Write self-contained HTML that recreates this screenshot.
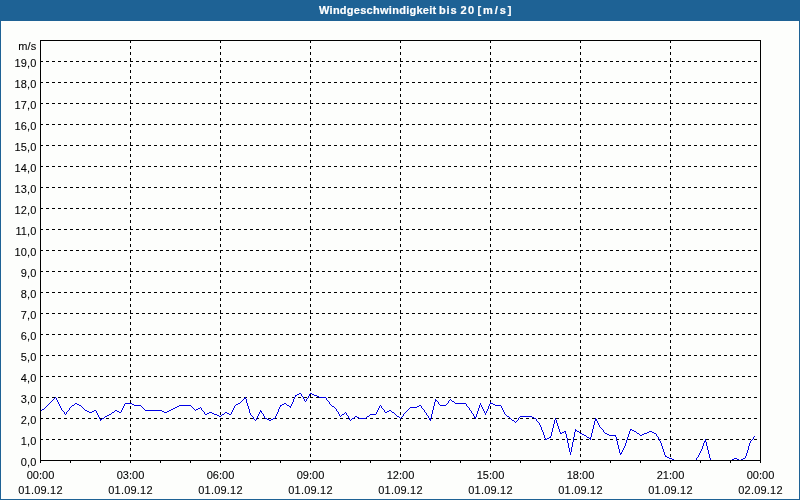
<!DOCTYPE html>
<html><head><meta charset="utf-8"><title>Windgeschwindigkeit bis 20 [m/s]</title>
<style>
html,body{margin:0;padding:0;}
body{width:800px;height:500px;position:relative;overflow:hidden;background:#1e6295;font-family:"Liberation Sans",sans-serif;font-size:11px;color:#000;-webkit-text-stroke:0.08px #000;}
#inner{position:absolute;left:1px;top:21px;width:798px;height:478px;background:#fdfefc;}
#title{-webkit-text-stroke:0.2px #fff;position:absolute;left:0;top:0;width:800px;height:21px;color:#fff;font-weight:bold;font-size:11px;line-height:13px;white-space:nowrap;}
#title span{position:absolute;top:4px;}
svg{position:absolute;left:0;top:0;}
.yl{position:absolute;left:0;width:36.4px;letter-spacing:0.1px;text-align:right;line-height:13px;height:13px;white-space:nowrap;}
.xl{position:absolute;width:81px;text-align:center;line-height:13px;height:13px;white-space:nowrap;}
</style></head><body>
<div id="title"><span style="left:319px;letter-spacing:0.27px">Windgeschwindigkeit</span> <span style="left:439px;letter-spacing:0.9px">bis</span> <span style="left:460.5px;letter-spacing:1.4px">20</span> <span style="left:477.5px;letter-spacing:1.9px">[m/s]</span></div>
<div id="inner"></div>
<svg width="800" height="500" viewBox="0 0 800 500" shape-rendering="crispEdges">
<g stroke="#000" stroke-width="1" stroke-dasharray="3 3" fill="none"><line x1="40" x2="760" y1="439.5" y2="439.5"/><line x1="40" x2="760" y1="418.5" y2="418.5"/><line x1="40" x2="760" y1="397.5" y2="397.5"/><line x1="40" x2="760" y1="376.5" y2="376.5"/><line x1="40" x2="760" y1="355.5" y2="355.5"/><line x1="40" x2="760" y1="334.5" y2="334.5"/><line x1="40" x2="760" y1="313.5" y2="313.5"/><line x1="40" x2="760" y1="292.5" y2="292.5"/><line x1="40" x2="760" y1="271.5" y2="271.5"/><line x1="40" x2="760" y1="250.5" y2="250.5"/><line x1="40" x2="760" y1="229.5" y2="229.5"/><line x1="40" x2="760" y1="208.5" y2="208.5"/><line x1="40" x2="760" y1="187.5" y2="187.5"/><line x1="40" x2="760" y1="166.5" y2="166.5"/><line x1="40" x2="760" y1="145.5" y2="145.5"/><line x1="40" x2="760" y1="124.5" y2="124.5"/><line x1="40" x2="760" y1="103.5" y2="103.5"/><line x1="40" x2="760" y1="82.5" y2="82.5"/><line x1="40" x2="760" y1="61.5" y2="61.5"/><line y1="40" y2="460" x1="130.5" x2="130.5"/><line y1="40" y2="460" x1="220.5" x2="220.5"/><line y1="40" y2="460" x1="310.5" x2="310.5"/><line y1="40" y2="460" x1="400.5" x2="400.5"/><line y1="40" y2="460" x1="490.5" x2="490.5"/><line y1="40" y2="460" x1="580.5" x2="580.5"/><line y1="40" y2="460" x1="670.5" x2="670.5"/></g>
<g fill="#000"><rect x="40" y="461" width="1" height="2"/><rect x="70" y="461" width="1" height="2"/><rect x="100" y="461" width="1" height="2"/><rect x="130" y="461" width="1" height="2"/><rect x="160" y="461" width="1" height="2"/><rect x="190" y="461" width="1" height="2"/><rect x="220" y="461" width="1" height="2"/><rect x="250" y="461" width="1" height="2"/><rect x="280" y="461" width="1" height="2"/><rect x="310" y="461" width="1" height="2"/><rect x="340" y="461" width="1" height="2"/><rect x="370" y="461" width="1" height="2"/><rect x="400" y="461" width="1" height="2"/><rect x="430" y="461" width="1" height="2"/><rect x="460" y="461" width="1" height="2"/><rect x="490" y="461" width="1" height="2"/><rect x="520" y="461" width="1" height="2"/><rect x="550" y="461" width="1" height="2"/><rect x="580" y="461" width="1" height="2"/><rect x="610" y="461" width="1" height="2"/><rect x="640" y="461" width="1" height="2"/><rect x="670" y="461" width="1" height="2"/><rect x="700" y="461" width="1" height="2"/><rect x="730" y="461" width="1" height="2"/><rect x="760" y="461" width="1" height="2"/></g>
<path fill="#0000e6" stroke="none" d="M299 393h2v1h-2zM310 393h2v1h-2zM297 394h2v1h-2zM301 394h1v1h-1zM309 394h1v1h-1zM312 394h2v1h-2zM295 395h2v1h-2zM301 395h1v1h-1zM309 395h1v1h-1zM314 395h3v1h-3zM295 396h1v1h-1zM302 396h1v1h-1zM308 396h1v1h-1zM317 396h2v1h-2zM55 397h1v1h-1zM245 397h1v1h-1zM294 397h1v1h-1zM303 397h1v1h-1zM308 397h1v1h-1zM319 397h7v1h-7zM54 398h1v1h-1zM56 398h1v1h-1zM244 398h2v1h-2zM294 398h1v1h-1zM303 398h1v1h-1zM307 398h1v1h-1zM326 398h1v1h-1zM53 399h1v1h-1zM56 399h1v1h-1zM243 399h1v1h-1zM246 399h1v1h-1zM293 399h1v1h-1zM304 399h1v1h-1zM306 399h1v1h-1zM326 399h1v1h-1zM435 399h1v1h-1zM450 399h1v1h-1zM52 400h1v1h-1zM57 400h1v1h-1zM242 400h1v1h-1zM246 400h1v1h-1zM293 400h1v1h-1zM304 400h1v1h-1zM306 400h1v1h-1zM327 400h1v1h-1zM435 400h2v1h-2zM449 400h1v1h-1zM451 400h1v1h-1zM51 401h1v1h-1zM57 401h1v1h-1zM241 401h1v1h-1zM246 401h1v1h-1zM293 401h1v1h-1zM305 401h1v1h-1zM328 401h1v1h-1zM435 401h1v1h-1zM437 401h1v1h-1zM448 401h1v1h-1zM452 401h2v1h-2zM50 402h1v1h-1zM58 402h1v1h-1zM240 402h1v1h-1zM246 402h1v1h-1zM292 402h1v1h-1zM329 402h1v1h-1zM434 402h1v1h-1zM438 402h1v1h-1zM448 402h1v1h-1zM454 402h1v1h-1zM490 402h1v1h-1zM49 403h1v1h-1zM58 403h1v1h-1zM75 403h2v1h-2zM125 403h7v1h-7zM238 403h2v1h-2zM247 403h1v1h-1zM284 403h2v1h-2zM292 403h1v1h-1zM329 403h1v1h-1zM434 403h1v1h-1zM438 403h1v1h-1zM447 403h1v1h-1zM455 403h11v1h-11zM480 403h1v1h-1zM490 403h3v1h-3zM48 404h1v1h-1zM59 404h1v1h-1zM74 404h1v1h-1zM77 404h2v1h-2zM124 404h1v1h-1zM132 404h2v1h-2zM236 404h2v1h-2zM247 404h1v1h-1zM282 404h2v1h-2zM286 404h1v1h-1zM291 404h1v1h-1zM330 404h1v1h-1zM434 404h1v1h-1zM439 404h1v1h-1zM446 404h1v1h-1zM466 404h1v1h-1zM480 404h1v1h-1zM489 404h1v1h-1zM493 404h2v1h-2zM47 405h1v1h-1zM59 405h1v1h-1zM72 405h2v1h-2zM79 405h2v1h-2zM124 405h1v1h-1zM134 405h7v1h-7zM179 405h12v1h-12zM235 405h1v1h-1zM247 405h1v1h-1zM280 405h2v1h-2zM287 405h2v1h-2zM291 405h1v1h-1zM331 405h1v1h-1zM380 405h1v1h-1zM419 405h2v1h-2zM434 405h1v1h-1zM440 405h6v1h-6zM466 405h1v1h-1zM479 405h1v1h-1zM481 405h1v1h-1zM489 405h1v1h-1zM495 405h6v1h-6zM46 406h1v1h-1zM60 406h1v1h-1zM71 406h1v1h-1zM81 406h1v1h-1zM123 406h1v1h-1zM141 406h1v1h-1zM177 406h2v1h-2zM191 406h1v1h-1zM234 406h1v1h-1zM248 406h1v1h-1zM280 406h1v1h-1zM289 406h2v1h-2zM332 406h2v1h-2zM379 406h1v1h-1zM381 406h1v1h-1zM417 406h2v1h-2zM421 406h1v1h-1zM433 406h1v1h-1zM467 406h1v1h-1zM479 406h1v1h-1zM481 406h1v1h-1zM488 406h1v1h-1zM501 406h1v1h-1zM45 407h1v1h-1zM60 407h1v1h-1zM70 407h1v1h-1zM82 407h1v1h-1zM123 407h1v1h-1zM142 407h1v1h-1zM175 407h2v1h-2zM192 407h1v1h-1zM200 407h1v1h-1zM234 407h1v1h-1zM248 407h1v1h-1zM279 407h1v1h-1zM290 407h1v1h-1zM334 407h1v1h-1zM379 407h1v1h-1zM381 407h1v1h-1zM410 407h7v1h-7zM421 407h1v1h-1zM433 407h1v1h-1zM468 407h1v1h-1zM479 407h1v1h-1zM482 407h1v1h-1zM488 407h1v1h-1zM501 407h1v1h-1zM44 408h1v1h-1zM61 408h1v1h-1zM69 408h1v1h-1zM83 408h1v1h-1zM122 408h1v1h-1zM143 408h1v1h-1zM173 408h2v1h-2zM193 408h1v1h-1zM198 408h2v1h-2zM201 408h1v1h-1zM233 408h1v1h-1zM248 408h1v1h-1zM279 408h1v1h-1zM335 408h1v1h-1zM378 408h1v1h-1zM382 408h1v1h-1zM409 408h1v1h-1zM422 408h1v1h-1zM433 408h1v1h-1zM469 408h1v1h-1zM478 408h1v1h-1zM482 408h1v1h-1zM488 408h1v1h-1zM502 408h1v1h-1zM42 409h2v1h-2zM61 409h1v1h-1zM69 409h1v1h-1zM84 409h1v1h-1zM122 409h1v1h-1zM144 409h1v1h-1zM171 409h2v1h-2zM194 409h1v1h-1zM196 409h2v1h-2zM201 409h1v1h-1zM233 409h1v1h-1zM249 409h1v1h-1zM278 409h1v1h-1zM336 409h1v1h-1zM378 409h1v1h-1zM383 409h1v1h-1zM408 409h1v1h-1zM423 409h1v1h-1zM433 409h1v1h-1zM469 409h1v1h-1zM478 409h1v1h-1zM483 409h1v1h-1zM487 409h1v1h-1zM502 409h1v1h-1zM41 410h1v1h-1zM62 410h1v1h-1zM68 410h1v1h-1zM85 410h2v1h-2zM94 410h2v1h-2zM115 410h2v1h-2zM121 410h1v1h-1zM145 410h17v1h-17zM169 410h2v1h-2zM195 410h1v1h-1zM202 410h1v1h-1zM232 410h1v1h-1zM249 410h1v1h-1zM260 410h1v1h-1zM278 410h1v1h-1zM336 410h1v1h-1zM377 410h1v1h-1zM384 410h1v1h-1zM389 410h2v1h-2zM407 410h1v1h-1zM424 410h1v1h-1zM432 410h1v1h-1zM470 410h1v1h-1zM478 410h1v1h-1zM483 410h1v1h-1zM487 410h1v1h-1zM503 410h1v1h-1zM40 411h1v1h-1zM63 411h1v1h-1zM67 411h1v1h-1zM87 411h2v1h-2zM92 411h2v1h-2zM96 411h1v1h-1zM114 411h1v1h-1zM117 411h2v1h-2zM121 411h1v1h-1zM162 411h2v1h-2zM167 411h2v1h-2zM203 411h1v1h-1zM232 411h1v1h-1zM249 411h1v1h-1zM260 411h2v1h-2zM278 411h1v1h-1zM337 411h1v1h-1zM377 411h1v1h-1zM384 411h1v1h-1zM387 411h2v1h-2zM391 411h1v1h-1zM406 411h1v1h-1zM424 411h1v1h-1zM432 411h1v1h-1zM471 411h1v1h-1zM477 411h1v1h-1zM484 411h1v1h-1zM486 411h1v1h-1zM503 411h1v1h-1zM64 412h1v1h-1zM66 412h1v1h-1zM89 412h3v1h-3zM96 412h1v1h-1zM112 412h2v1h-2zM119 412h2v1h-2zM164 412h3v1h-3zM204 412h1v1h-1zM209 412h3v1h-3zM225 412h2v1h-2zM231 412h1v1h-1zM249 412h1v1h-1zM259 412h1v1h-1zM261 412h1v1h-1zM277 412h1v1h-1zM338 412h1v1h-1zM345 412h1v1h-1zM376 412h1v1h-1zM385 412h2v1h-2zM392 412h2v1h-2zM405 412h1v1h-1zM425 412h1v1h-1zM432 412h1v1h-1zM471 412h1v1h-1zM477 412h1v1h-1zM484 412h1v1h-1zM486 412h1v1h-1zM504 412h1v1h-1zM64 413h1v1h-1zM66 413h1v1h-1zM97 413h1v1h-1zM111 413h1v1h-1zM204 413h1v1h-1zM207 413h2v1h-2zM212 413h2v1h-2zM224 413h1v1h-1zM227 413h2v1h-2zM231 413h1v1h-1zM250 413h1v1h-1zM259 413h1v1h-1zM262 413h1v1h-1zM277 413h1v1h-1zM338 413h1v1h-1zM344 413h1v1h-1zM346 413h1v1h-1zM376 413h1v1h-1zM394 413h1v1h-1zM404 413h1v1h-1zM426 413h1v1h-1zM432 413h1v1h-1zM472 413h1v1h-1zM477 413h1v1h-1zM485 413h1v1h-1zM504 413h1v1h-1zM65 414h1v1h-1zM97 414h1v1h-1zM109 414h2v1h-2zM205 414h2v1h-2zM214 414h3v1h-3zM222 414h2v1h-2zM229 414h2v1h-2zM250 414h1v1h-1zM258 414h1v1h-1zM263 414h1v1h-1zM276 414h1v1h-1zM339 414h1v1h-1zM342 414h2v1h-2zM346 414h1v1h-1zM370 414h6v1h-6zM395 414h1v1h-1zM403 414h1v1h-1zM426 414h1v1h-1zM431 414h1v1h-1zM473 414h1v1h-1zM476 414h1v1h-1zM485 414h1v1h-1zM505 414h1v1h-1zM98 415h1v1h-1zM107 415h2v1h-2zM217 415h2v1h-2zM221 415h1v1h-1zM251 415h1v1h-1zM258 415h1v1h-1zM263 415h1v1h-1zM276 415h1v1h-1zM339 415h1v1h-1zM341 415h1v1h-1zM347 415h1v1h-1zM369 415h1v1h-1zM396 415h1v1h-1zM403 415h1v1h-1zM427 415h1v1h-1zM431 415h1v1h-1zM473 415h1v1h-1zM476 415h1v1h-1zM506 415h1v1h-1zM98 416h1v1h-1zM105 416h2v1h-2zM219 416h2v1h-2zM252 416h1v1h-1zM257 416h1v1h-1zM264 416h1v1h-1zM275 416h1v1h-1zM340 416h1v1h-1zM348 416h1v1h-1zM355 416h2v1h-2zM367 416h2v1h-2zM397 416h2v1h-2zM402 416h1v1h-1zM428 416h1v1h-1zM431 416h1v1h-1zM474 416h1v1h-1zM476 416h1v1h-1zM507 416h2v1h-2zM520 416h12v1h-12zM99 417h1v1h-1zM104 417h1v1h-1zM253 417h1v1h-1zM257 417h1v1h-1zM264 417h1v1h-1zM275 417h1v1h-1zM348 417h1v1h-1zM354 417h1v1h-1zM357 417h2v1h-2zM366 417h1v1h-1zM399 417h1v1h-1zM401 417h1v1h-1zM428 417h1v1h-1zM431 417h1v1h-1zM474 417h2v1h-2zM509 417h1v1h-1zM519 417h1v1h-1zM532 417h2v1h-2zM99 418h1v1h-1zM102 418h2v1h-2zM253 418h1v1h-1zM256 418h1v1h-1zM265 418h2v1h-2zM273 418h2v1h-2zM349 418h1v1h-1zM352 418h2v1h-2zM359 418h7v1h-7zM400 418h1v1h-1zM429 418h2v1h-2zM475 418h1v1h-1zM510 418h1v1h-1zM518 418h1v1h-1zM534 418h2v1h-2zM555 418h1v1h-1zM595 418h1v1h-1zM100 419h2v1h-2zM254 419h1v1h-1zM256 419h1v1h-1zM267 419h2v1h-2zM271 419h2v1h-2zM349 419h1v1h-1zM351 419h1v1h-1zM429 419h2v1h-2zM511 419h1v1h-1zM518 419h1v1h-1zM536 419h1v1h-1zM555 419h1v1h-1zM595 419h2v1h-2zM100 420h1v1h-1zM255 420h1v1h-1zM269 420h2v1h-2zM350 420h1v1h-1zM430 420h1v1h-1zM512 420h2v1h-2zM517 420h1v1h-1zM536 420h1v1h-1zM554 420h1v1h-1zM556 420h1v1h-1zM595 420h2v1h-2zM514 421h1v1h-1zM516 421h1v1h-1zM537 421h1v1h-1zM554 421h1v1h-1zM556 421h1v1h-1zM594 421h1v1h-1zM597 421h1v1h-1zM515 422h1v1h-1zM538 422h1v1h-1zM554 422h1v1h-1zM556 422h1v1h-1zM594 422h1v1h-1zM597 422h1v1h-1zM539 423h1v1h-1zM554 423h1v1h-1zM557 423h1v1h-1zM594 423h1v1h-1zM598 423h1v1h-1zM539 424h1v1h-1zM553 424h1v1h-1zM557 424h1v1h-1zM594 424h1v1h-1zM598 424h1v1h-1zM540 425h1v1h-1zM553 425h1v1h-1zM557 425h1v1h-1zM593 425h1v1h-1zM599 425h1v1h-1zM540 426h1v1h-1zM553 426h1v1h-1zM558 426h1v1h-1zM593 426h1v1h-1zM599 426h1v1h-1zM541 427h1v1h-1zM553 427h1v1h-1zM558 427h1v1h-1zM593 427h1v1h-1zM600 427h1v1h-1zM541 428h1v1h-1zM552 428h1v1h-1zM558 428h1v1h-1zM593 428h1v1h-1zM601 428h1v1h-1zM541 429h1v1h-1zM552 429h1v1h-1zM559 429h1v1h-1zM575 429h1v1h-1zM592 429h1v1h-1zM602 429h1v1h-1zM630 429h2v1h-2zM542 430h1v1h-1zM552 430h1v1h-1zM559 430h1v1h-1zM575 430h2v1h-2zM592 430h1v1h-1zM603 430h1v1h-1zM630 430h1v1h-1zM632 430h2v1h-2zM542 431h1v1h-1zM552 431h1v1h-1zM559 431h1v1h-1zM564 431h2v1h-2zM575 431h1v1h-1zM577 431h2v1h-2zM592 431h1v1h-1zM603 431h1v1h-1zM629 431h1v1h-1zM634 431h2v1h-2zM649 431h3v1h-3zM543 432h1v1h-1zM551 432h1v1h-1zM560 432h1v1h-1zM562 432h2v1h-2zM565 432h1v1h-1zM574 432h1v1h-1zM579 432h1v1h-1zM592 432h1v1h-1zM604 432h1v1h-1zM629 432h1v1h-1zM636 432h1v1h-1zM647 432h2v1h-2zM652 432h2v1h-2zM543 433h1v1h-1zM551 433h1v1h-1zM560 433h2v1h-2zM565 433h1v1h-1zM574 433h1v1h-1zM580 433h2v1h-2zM591 433h1v1h-1zM605 433h2v1h-2zM629 433h1v1h-1zM637 433h2v1h-2zM644 433h3v1h-3zM654 433h2v1h-2zM543 434h1v1h-1zM551 434h1v1h-1zM566 434h1v1h-1zM574 434h1v1h-1zM582 434h2v1h-2zM591 434h1v1h-1zM607 434h2v1h-2zM628 434h1v1h-1zM639 434h1v1h-1zM642 434h2v1h-2zM656 434h1v1h-1zM544 435h1v1h-1zM551 435h1v1h-1zM566 435h1v1h-1zM574 435h1v1h-1zM584 435h2v1h-2zM591 435h1v1h-1zM609 435h7v1h-7zM628 435h1v1h-1zM640 435h2v1h-2zM656 435h1v1h-1zM544 436h1v1h-1zM550 436h1v1h-1zM566 436h1v1h-1zM574 436h1v1h-1zM586 436h1v1h-1zM591 436h1v1h-1zM615 436h1v1h-1zM628 436h1v1h-1zM657 436h1v1h-1zM754 436h1v1h-1zM544 437h1v1h-1zM549 437h2v1h-2zM566 437h1v1h-1zM573 437h1v1h-1zM587 437h2v1h-2zM590 437h1v1h-1zM616 437h1v1h-1zM627 437h1v1h-1zM658 437h1v1h-1zM753 437h1v1h-1zM545 438h1v1h-1zM547 438h2v1h-2zM567 438h1v1h-1zM573 438h1v1h-1zM589 438h2v1h-2zM616 438h1v1h-1zM627 438h1v1h-1zM658 438h1v1h-1zM753 438h1v1h-1zM545 439h2v1h-2zM567 439h1v1h-1zM573 439h1v1h-1zM590 439h1v1h-1zM616 439h1v1h-1zM627 439h1v1h-1zM659 439h1v1h-1zM705 439h1v1h-1zM752 439h1v1h-1zM567 440h1v1h-1zM573 440h1v1h-1zM616 440h1v1h-1zM626 440h1v1h-1zM659 440h1v1h-1zM705 440h1v1h-1zM751 440h1v1h-1zM567 441h1v1h-1zM573 441h1v1h-1zM617 441h1v1h-1zM626 441h1v1h-1zM660 441h1v1h-1zM704 441h2v1h-2zM750 441h1v1h-1zM567 442h1v1h-1zM572 442h1v1h-1zM617 442h1v1h-1zM626 442h1v1h-1zM660 442h1v1h-1zM704 442h1v1h-1zM706 442h1v1h-1zM750 442h1v1h-1zM568 443h1v1h-1zM572 443h1v1h-1zM617 443h1v1h-1zM625 443h1v1h-1zM661 443h1v1h-1zM703 443h1v1h-1zM706 443h1v1h-1zM749 443h1v1h-1zM568 444h1v1h-1zM572 444h1v1h-1zM617 444h1v1h-1zM625 444h1v1h-1zM661 444h1v1h-1zM703 444h1v1h-1zM706 444h1v1h-1zM749 444h1v1h-1zM568 445h1v1h-1zM572 445h1v1h-1zM618 445h1v1h-1zM625 445h1v1h-1zM661 445h1v1h-1zM703 445h1v1h-1zM706 445h1v1h-1zM749 445h1v1h-1zM568 446h1v1h-1zM572 446h1v1h-1zM618 446h1v1h-1zM624 446h1v1h-1zM662 446h1v1h-1zM702 446h1v1h-1zM707 446h1v1h-1zM748 446h1v1h-1zM568 447h1v1h-1zM571 447h1v1h-1zM618 447h1v1h-1zM624 447h1v1h-1zM662 447h1v1h-1zM702 447h1v1h-1zM707 447h1v1h-1zM748 447h1v1h-1zM569 448h1v1h-1zM571 448h1v1h-1zM618 448h1v1h-1zM623 448h1v1h-1zM662 448h1v1h-1zM702 448h1v1h-1zM707 448h1v1h-1zM748 448h1v1h-1zM569 449h1v1h-1zM571 449h1v1h-1zM619 449h1v1h-1zM623 449h1v1h-1zM663 449h1v1h-1zM701 449h1v1h-1zM707 449h1v1h-1zM748 449h1v1h-1zM569 450h1v1h-1zM571 450h1v1h-1zM619 450h1v1h-1zM622 450h1v1h-1zM663 450h1v1h-1zM701 450h1v1h-1zM708 450h1v1h-1zM747 450h1v1h-1zM569 451h1v1h-1zM571 451h1v1h-1zM619 451h1v1h-1zM622 451h1v1h-1zM663 451h1v1h-1zM700 451h1v1h-1zM708 451h1v1h-1zM747 451h1v1h-1zM570 452h1v1h-1zM619 452h1v1h-1zM621 452h1v1h-1zM664 452h1v1h-1zM700 452h1v1h-1zM708 452h1v1h-1zM747 452h1v1h-1zM570 453h1v1h-1zM620 453h2v1h-2zM664 453h1v1h-1zM699 453h1v1h-1zM708 453h1v1h-1zM746 453h1v1h-1zM570 454h1v1h-1zM620 454h1v1h-1zM664 454h1v1h-1zM699 454h1v1h-1zM709 454h1v1h-1zM746 454h1v1h-1zM665 455h1v1h-1zM698 455h1v1h-1zM709 455h1v1h-1zM746 455h1v1h-1zM665 456h2v1h-2zM698 456h1v1h-1zM709 456h1v1h-1zM745 456h1v1h-1zM667 457h2v1h-2zM697 457h1v1h-1zM709 457h1v1h-1zM745 457h1v1h-1zM669 458h3v1h-3zM696 458h1v1h-1zM710 458h1v1h-1zM734 458h3v1h-3zM743 458h2v1h-2zM672 459h2v1h-2zM696 459h1v1h-1zM710 459h1v1h-1zM732 459h2v1h-2zM737 459h2v1h-2zM741 459h2v1h-2zM674 460h22v1h-22zM710 460h22v1h-22zM739 460h2v1h-2z"/>
<rect x="40.5" y="40.5" width="720" height="420" fill="none" stroke="#000" stroke-width="1"/>
</svg>
<div class="yl" style="top:40px">m/s</div><div class="yl" style="top:456px">0,0</div><div class="yl" style="top:435px">1,0</div><div class="yl" style="top:414px">2,0</div><div class="yl" style="top:393px">3,0</div><div class="yl" style="top:372px">4,0</div><div class="yl" style="top:351px">5,0</div><div class="yl" style="top:330px">6,0</div><div class="yl" style="top:309px">7,0</div><div class="yl" style="top:288px">8,0</div><div class="yl" style="top:267px">9,0</div><div class="yl" style="top:246px">10,0</div><div class="yl" style="top:225px">11,0</div><div class="yl" style="top:204px">12,0</div><div class="yl" style="top:183px">13,0</div><div class="yl" style="top:162px">14,0</div><div class="yl" style="top:141px">15,0</div><div class="yl" style="top:120px">16,0</div><div class="yl" style="top:99px">17,0</div><div class="yl" style="top:78px">18,0</div><div class="yl" style="top:57px">19,0</div>
<div class="xl" style="left:0px;top:469px">00:00</div><div class="xl" style="left:0px;top:484px;letter-spacing:0.2px">01.09.12</div><div class="xl" style="left:90px;top:469px">03:00</div><div class="xl" style="left:90px;top:484px;letter-spacing:0.2px">01.09.12</div><div class="xl" style="left:180px;top:469px">06:00</div><div class="xl" style="left:180px;top:484px;letter-spacing:0.2px">01.09.12</div><div class="xl" style="left:270px;top:469px">09:00</div><div class="xl" style="left:270px;top:484px;letter-spacing:0.2px">01.09.12</div><div class="xl" style="left:360px;top:469px">12:00</div><div class="xl" style="left:360px;top:484px;letter-spacing:0.2px">01.09.12</div><div class="xl" style="left:450px;top:469px">15:00</div><div class="xl" style="left:450px;top:484px;letter-spacing:0.2px">01.09.12</div><div class="xl" style="left:540px;top:469px">18:00</div><div class="xl" style="left:540px;top:484px;letter-spacing:0.2px">01.09.12</div><div class="xl" style="left:630px;top:469px">21:00</div><div class="xl" style="left:630px;top:484px;letter-spacing:0.2px">01.09.12</div><div class="xl" style="left:720px;top:469px">00:00</div><div class="xl" style="left:720px;top:484px;letter-spacing:0.2px">02.09.12</div>
</body></html>
